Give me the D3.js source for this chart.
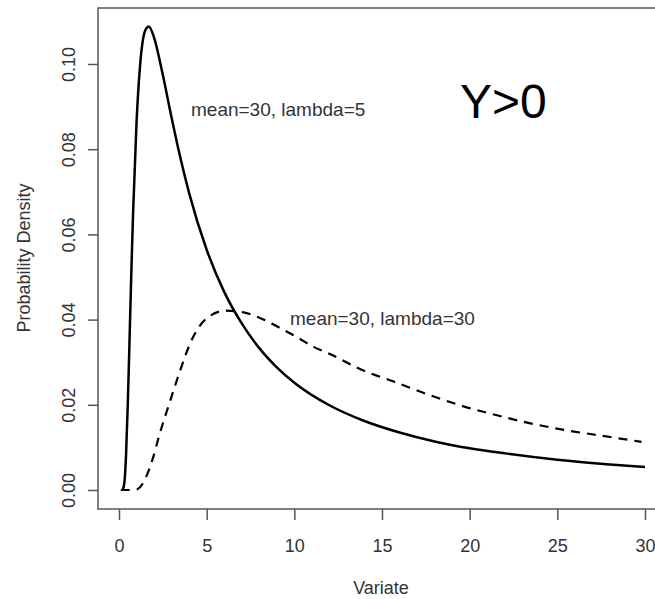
<!DOCTYPE html>
<html>
<head>
<meta charset="utf-8">
<script src="https://cdn.jsdelivr.net/npm/d3@7"></script>
<style>
    body { margin: 0; background: #fff; }
    text { font-family: "Liberation Sans", Arial, sans-serif; }
</style>
</head>
<body>
<script>
// values
var xTicks = [0, 5, 10, 15, 20, 25, 30];
var yTicks = [0.00, 0.02, 0.04, 0.06, 0.08, 0.10];
var yTickLabels = ["0.00", "0.02", "0.04", "0.06", "0.08", "0.10"];

// mean=30, lambda=5 (solid)
var solidX = [0.2, 0.3, 0.4, 0.5, 0.6, 0.7, 0.8, 1.0, 1.2, 1.5, 1.7, 2.0, 2.5, 3, 3.5, 4, 5, 6, 7, 8, 9, 10, 12, 14, 16, 18, 20, 22, 25, 28, 30];
var solidY = [0.0000, 0.0015, 0.0080, 0.0200, 0.0351, 0.0505, 0.0646, 0.0863, 0.0995, 0.1079, 0.1088, 0.1062, 0.0974, 0.0874, 0.0780, 0.0697, 0.0564, 0.0465, 0.0391, 0.0333, 0.0288, 0.0252, 0.0199, 0.0162, 0.0135, 0.0114, 0.0098, 0.0086, 0.0071, 0.0060, 0.0054];

// mean=30, lambda=30 (dashed)
var dashX = [0.1, 0.7, 1.0, 1.3, 1.9, 2.3, 2.9, 3.5, 4.1, 5.0, 6.1, 7.1, 8.2, 9.2, 10.1, 11.1, 12.0, 13.8, 15.7, 17.7, 19.6, 21.5, 23.4, 25.4, 27.6, 29.8];
var dashY = [0, 0, 0.0001, 0.0012, 0.0070, 0.0129, 0.0207, 0.0282, 0.0348, 0.0403, 0.0421, 0.0417, 0.0401, 0.0380, 0.0360, 0.0336, 0.0320, 0.0283, 0.0254, 0.0223, 0.0197, 0.0176, 0.0157, 0.0141, 0.0127, 0.0113];

var width = 655;
var height = 599;
var axisColor = "#555";
var textColor = "#333";

var svg = d3.select("body").append("svg")
    .attr("width", width)
    .attr("height", height);

var x = d3.scaleLinear().domain([0, 30]).range([119, 645]);
var y = d3.scaleLinear().domain([0, 0.10]).range([490, 64]);

// plot box (right side runs off the picture)
svg.append("rect")
    .attr("x", 98)
    .attr("y", 8)
    .attr("width", 600)
    .attr("height", 501)
    .attr("fill", "none")
    .attr("stroke", axisColor)
    .attr("stroke-width", 1.5);

var xAxis = svg.append("g")
    .attr("transform", "translate(0,509)")
    .call(d3.axisBottom(x).tickValues(xTicks).tickSize(11).tickPadding(19).tickFormat(d3.format("d")));

var yAxis = svg.append("g")
    .attr("transform", "translate(98,0)")
    .call(d3.axisLeft(y).tickValues(yTicks).tickSize(10).tickFormat(function(d, i) { return yTickLabels[i]; }));

[xAxis, yAxis].forEach(function(g) {
    g.select(".domain").remove();
    g.selectAll(".tick line").attr("stroke", axisColor).attr("stroke-width", 1.5);
    g.selectAll(".tick text")
        .attr("fill", textColor)
        .style("font-size", "18px");
});

// R draws the y labels parallel to the axis
yAxis.selectAll(".tick text")
    .attr("x", null)
    .attr("dy", null)
    .attr("text-anchor", "middle")
    .attr("transform", "translate(-23,0) rotate(-90)");

svg.append("clipPath").attr("id", "plotClip")
    .append("rect").attr("x", 99).attr("y", 9).attr("width", 560).attr("height", 499);

var line = d3.line()
    .x(function(d) { return x(d[0]); })
    .y(function(d) { return y(d[1]); })
    .curve(d3.curveMonotoneX);

var plot = svg.append("g").attr("clip-path", "url(#plotClip)");

plot.append("path")
    .datum(d3.zip(dashX, dashY))
    .attr("d", line)
    .attr("fill", "none")
    .attr("stroke", "#000")
    .attr("stroke-width", 2.2)
    .attr("stroke-dasharray", "9,7");

plot.append("path")
    .datum(d3.zip(solidX, solidY))
    .attr("d", line)
    .attr("fill", "none")
    .attr("stroke", "#000")
    .attr("stroke-width", 2.5)
    .attr("stroke-linejoin", "round");

// labels
svg.append("text")
    .attr("x", 191).attr("y", 116)
    .attr("fill", textColor)
    .style("font-size", "19px")
    .text("mean=30, lambda=5");

svg.append("text")
    .attr("x", 290).attr("y", 325)
    .attr("fill", textColor)
    .style("font-size", "19px")
    .text("mean=30, lambda=30");

svg.append("text")
    .attr("x", 460).attr("y", 118)
    .attr("fill", "#000")
    .style("font-size", "48px")
    .text("Y>0");

svg.append("text")
    .attr("x", 381).attr("y", 594)
    .attr("text-anchor", "middle")
    .attr("fill", textColor)
    .style("font-size", "18px")
    .text("Variate");

svg.append("text")
    .attr("transform", "translate(30,258) rotate(-90)")
    .attr("text-anchor", "middle")
    .attr("fill", textColor)
    .style("font-size", "18px")
    .text("Probability Density");
</script>
</body>
</html>
